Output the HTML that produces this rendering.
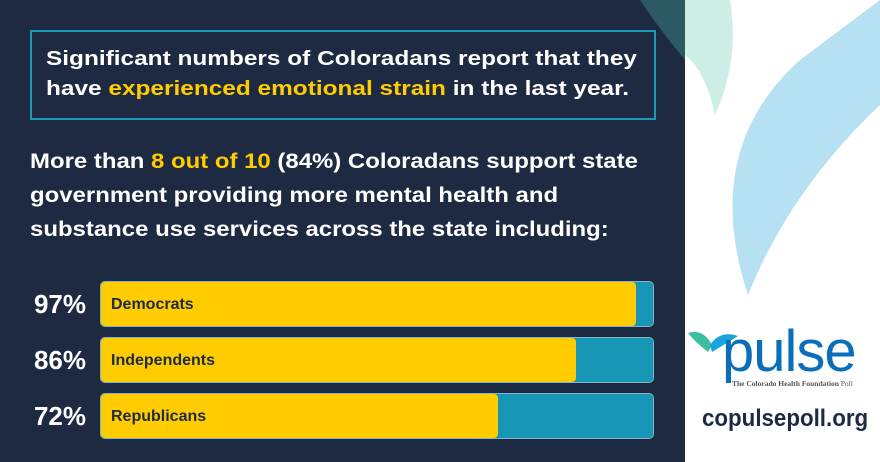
<!DOCTYPE html>
<html><head><style>
body{margin:0;width:880px;height:462px;overflow:hidden;background:#fff;font-family:"Liberation Sans",sans-serif;position:relative}
#dark{position:absolute;left:0;top:0;width:685px;height:462px;background:#1e2a42}
.box{position:absolute;left:30px;top:30px;width:626px;height:90px;border:2px solid #1a9ab8;box-sizing:border-box}
.bt{position:absolute;left:46px;top:44px;color:#fff;font-weight:bold;font-size:20.5px;line-height:30px;transform:scaleX(1.19);transform-origin:left top;white-space:nowrap}
.y{color:#ffcc00}
.p{position:absolute;left:30px;top:145px;color:#fff;font-weight:bold;font-size:21px;line-height:34px;white-space:nowrap;transform:scaleX(1.14);transform-origin:left top}
.pct{position:absolute;left:20px;width:66px;text-align:right;color:#fff;font-weight:bold;font-size:26px}
.bar{position:absolute;left:100px;width:554px;height:46px;background:#1795b5;border-radius:5px;border:1px solid #7fb8c8;box-sizing:border-box;overflow:hidden}
.fill{height:100%;background:#ffcc00;border-radius:4px;color:#1e2a42;font-weight:bold;font-size:16px;line-height:46px;padding-left:10px;box-sizing:border-box}
.url{position:absolute;left:702px;top:405px;font-weight:bold;font-size:24px;color:#1e2a42;transform:scaleX(0.93);transform-origin:left top;white-space:nowrap}
</style></head><body>
<div id="dark"></div>
<svg style="position:absolute;left:0;top:0" width="880" height="462">
<path d="M640 0 L685 0 L685 60 Q660 30 640 0Z" fill="#2b5a64"/>
<path d="M685 0 L730 0 Q740 60 715 115 Q705 70 685 55Z" fill="#cdeee6"/>
<path d="M880 0 L880 105 Q790 190 748 295 Q700 150 800 60 Q840 30 880 0Z" fill="#b6e1f2"/>
<path d="M688 333 Q703 328 712 345 L708 352 Q695 342 688 333Z" fill="#3bbf9e"/>
<path d="M710 345 Q720 330 738 336 Q722 346 712 352Z" fill="#1aa3dd"/>
</svg>
<div class="box"></div>
<div class="bt">Significant numbers of Coloradans report that they<br>have <span class="y">experienced emotional strain</span> in the last year.</div>
<div class="p">More than <span class="y">8 out of 10</span> (84%) Coloradans support state<br>government providing more mental health and<br>substance use services across the state including:</div>
<div class="pct" style="top:289px">97%</div>
<div class="pct" style="top:345px">86%</div>
<div class="pct" style="top:401px">72%</div>
<div class="bar" style="top:281px"><div class="fill" style="width:97%">Democrats</div></div>
<div class="bar" style="top:337px"><div class="fill" style="width:86%">Independents</div></div>
<div class="bar" style="top:393px"><div class="fill" style="width:72%">Republicans</div></div>
<div style="position:absolute;left:722px;top:322px;font-size:58px;color:#0a6fb8;letter-spacing:-1px;line-height:60px">pulse</div>
<div style="position:absolute;left:732px;top:379px;font-size:7.5px;color:#555;font-family:'Liberation Serif',serif;white-space:nowrap"><b>The Colorado Health Foundation</b> Poll</div>
<div class="url">copulsepoll.org</div>
</body></html>
